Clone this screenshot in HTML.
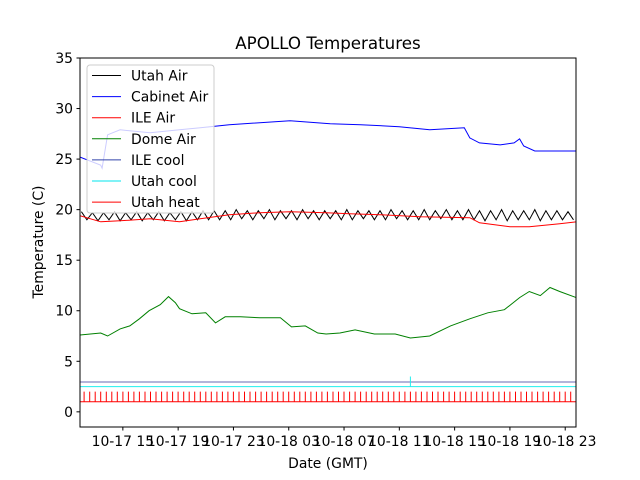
<!DOCTYPE html>
<html><head><meta charset="utf-8"><style>
body{margin:0;background:#fff}
svg{display:block;font-family:"DejaVu Sans","Liberation Sans",sans-serif}
</style></head><body>
<svg id="chart" width="640" height="480" viewBox="0 0 640 480">
<rect width="640" height="480" fill="#fff"/>
<text x="328" y="49" font-size="16.7" text-anchor="middle">APOLLO Temperatures</text>
<g id="plot"></g>
</svg>
<script>
const yTickVals=[0,5,10,15,20,25,30,35];
const xTickHours=[15,19,23,27,31,35,39,43,47];
const xTickLabels=["10-17 15","10-17 19","10-17 23","10-18 03","10-18 07","10-18 11","10-18 15","10-18 19","10-18 23"];
const cabinetT=[11.9,13.4,13.5,13.9,14.8,16.97,19.1,20.6,22.7,27.1,30.0,32.2,35.0,37.2,39.7,40.1,40.8,42.3,43.3,43.7,44.0,44.8,47.8];
const cabinetV=[25.2,24.4,24.1,27.4,27.9,27.6,27.9,28.1,28.4,28.8,28.5,28.4,28.2,27.9,28.1,27.1,26.6,26.4,26.6,27.0,26.3,25.8,25.8];
const ileAirT=[11.9,13.4,14.8,16.97,19.1,20.6,22.7,24.9,27.1,29.7,31.4,33.6,36.5,40.1,40.8,43.0,44.4,46.6,47.8];
const ileAirV=[19.4,18.8,18.9,19.1,18.8,19.1,19.5,19.7,19.8,19.7,19.6,19.5,19.3,19.2,18.7,18.3,18.3,18.6,18.8];
const domeT=[11.9,13.4,13.9,14.8,15.5,16.2,16.9,17.7,18.3,18.8,19.1,20.0,21.0,21.7,22.4,23.5,24.9,26.4,27.2,28.2,29.1,29.7,30.7,31.8,33.2,34.7,35.8,37.2,38.7,40.1,41.4,42.6,43.7,44.4,45.2,45.9,46.6,47.8];
const domeV=[7.6,7.8,7.5,8.2,8.5,9.2,10.0,10.6,11.4,10.8,10.2,9.7,9.8,8.8,9.4,9.4,9.3,9.3,8.4,8.5,7.8,7.7,7.8,8.1,7.7,7.7,7.3,7.5,8.5,9.2,9.8,10.1,11.3,11.9,11.5,12.3,11.9,11.3];
const utahAirT=[12.0,12.4,12.8,13.2,13.6,14.0,14.4,14.8,15.2,15.6,16.0,16.4,16.8,17.2,17.6,18.0,18.4,18.8,19.2,19.6,20.0,20.4,20.8,21.2,21.6,22.0,22.4,22.8,23.2,23.6,24.0,24.4,24.8,25.2,25.6,26.0,26.4,26.8,27.2,27.6,28.0,28.4,28.8,29.2,29.6,30.0,30.4,30.8,31.2,31.6,32.0,32.4,32.8,33.2,33.6,34.0,34.4,34.8,35.2,35.6,36.0,36.4,36.8,37.2,37.6,38.0,38.4,38.8,39.2,39.6,40.0,40.4,40.8,41.2,41.6,42.0,42.4,42.8,43.2,43.6,44.0,44.4,44.8,45.2,45.6,46.0,46.4,46.8,47.2,47.6];
const utahAirV=[19.8,19.0,19.7,18.9,19.7,19.0,19.8,18.9,19.7,19.0,19.8,18.9,19.7,19.0,19.8,18.9,19.7,19.0,19.8,18.9,19.8,19.0,19.9,19.0,19.9,19.0,19.9,19.0,20.0,19.1,19.9,19.0,19.9,19.1,20.0,19.0,19.9,19.1,19.9,19.0,20.0,19.1,19.9,19.0,19.9,19.1,19.9,19.0,20.0,19.0,19.9,19.1,19.9,19.0,19.9,19.0,20.0,19.1,19.9,19.0,19.9,19.0,20.0,19.0,19.9,19.1,20.0,19.0,19.9,19.0,20.0,19.0,19.9,18.9,19.9,19.0,20.0,18.9,19.9,19.0,19.9,19.0,20.0,18.9,19.9,19.0,19.9,19.0,19.8,19.0];
const ileCoolV=2.95;
const utahCoolT=[11.9,35.8,35.8,35.8,47.8];
const utahCoolV=[2.5,2.5,3.5,2.5,2.5];
const heatBase=1.0, heatOn=2.0;
const heatT=[12.2,12.6,13.0,13.4,13.8,14.2,14.6,15.0,15.4,15.8,16.2,16.6,17.0,17.4,17.8,18.2,18.6,19.0,19.4,19.8,20.2,20.6,21.0,21.4,21.8,22.2,22.6,23.0,23.4,23.8,24.2,24.6,25.0,25.4,25.8,26.2,26.6,27.0,27.4,27.8,28.2,28.6,29.0,29.4,29.8,30.2,30.6,31.0,31.4,31.8,32.2,32.6,33.0,33.4,33.8,34.2,34.6,35.0,35.4,35.8,36.2,36.6,37.0,37.4,37.8,38.2,38.6,39.0,39.4,39.8,40.2,40.6,41.0,41.4,41.8,42.2,42.6,43.0,43.4,43.8,44.2,44.6,45.0,45.4,45.8,46.2,46.6,47.0,47.4];

const L=80,R=576,T=58,B=427;
const H0=11.9,H1=47.78,V0=-1.5,V1=35;
const xs=h=>L+(h-H0)/(H1-H0)*(R-L);
const ys=v=>B-(v-V0)/(V1-V0)*(B-T);
const NS="http://www.w3.org/2000/svg";
const plot=document.getElementById('plot');
function mk(tag,attrs,parent){const e=document.createElementNS(NS,tag);for(const k in attrs)e.setAttribute(k,attrs[k]);(parent||plot).appendChild(e);return e;}
const clip=mk('clipPath',{id:'cp'});mk('rect',{x:L,y:T,width:R-L,height:B-T},clip);
const g=mk('g',{'clip-path':'url(#cp)'});
function line(ts,vs,color,name){const d=ts.map((t,i)=>(i?'L':'M')+xs(t).toFixed(1)+','+ys(vs[i]).toFixed(1)).join('');
 const p=mk('path',{d:d,fill:'none',stroke:color,'stroke-width':1},g);
 
 }
line(utahAirT,utahAirV,'#000','utah-air-line');
line(cabinetT,cabinetV,'#0000ff','cabinet-air-line');
line(ileAirT,ileAirV,'#ff0000','ile-air-line');
line(domeT,domeV,'#008000','dome-air-line');
line([H0,H1],[ileCoolV,ileCoolV],'#6a6ab4','ile-cool-line');
line(utahCoolT,utahCoolV,'#22eeee','utah-cool-line');
let hd='M'+xs(H0)+','+ys(heatBase)+'L'+xs(H1)+','+ys(heatBase);
heatT.forEach(t=>{hd+='M'+xs(t).toFixed(1)+','+ys(heatBase)+'L'+xs(t).toFixed(1)+','+ys(heatOn);});
const hp=mk('path',{d:hd,fill:'none',stroke:'#ff0000','stroke-width':1},g);


mk('rect',{x:L,y:T,width:R-L,height:B-T,fill:'none',stroke:'#000','stroke-width':1});
yTickVals.forEach(v=>{const y=ys(v);mk('line',{x1:L-3.5,x2:L,y1:y,y2:y,stroke:'#000'});
 const t=mk('text',{x:L-7,y:y+5,'font-size':13.9,'text-anchor':'end'});t.textContent=v;
 
 });
xTickHours.forEach((h,i)=>{const x=xs(h);mk('line',{x1:x,x2:x,y1:B,y2:B+3.5,stroke:'#000'});
 const t=mk('text',{x:x,y:B+19,'font-size':13.9,'text-anchor':'middle'});t.textContent=xTickLabels[i];
 
 });
const xl=mk('text',{x:328,y:468,'font-size':13.9,'text-anchor':'middle'});xl.textContent='Date (GMT)';


const yl=mk('text',{x:43,y:242,'font-size':13.9,'text-anchor':'middle',transform:'rotate(-90 43 242)'});yl.textContent='Temperature (C)';


const lg=mk('g',{});


mk('rect',{x:87,y:65,width:127,height:148,rx:3,fill:'#fff','fill-opacity':0.8,stroke:'#ccc'},lg);
const names=['Utah Air','Cabinet Air','ILE Air','Dome Air','ILE cool','Utah cool','Utah heat'];
const cols=['#000','#0000ff','#ff0000','#008000','#3344aa','#00e5ee','#ff0000'];
names.forEach((n,i)=>{const y=75.5+i*21.1;
 mk('line',{x1:92,x2:121,y1:y,y2:y,stroke:cols[i]},lg);
 const t=mk('text',{x:131,y:y+5,'font-size':13.9},lg);t.textContent=n;
 
 });
</script>
</body></html>
